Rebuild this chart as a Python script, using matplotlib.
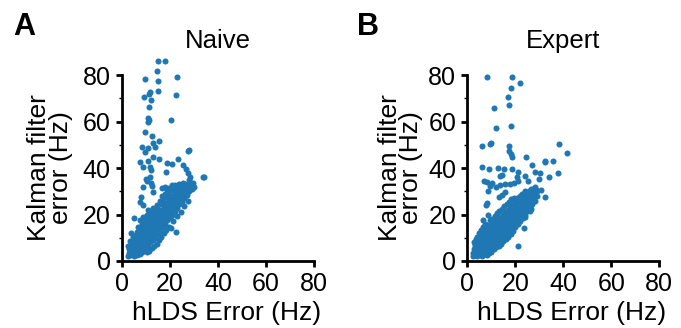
import matplotlib
matplotlib.use("Agg")
import matplotlib.pyplot as plt
from matplotlib.ticker import MultipleLocator

plt.rcParams['font.family'] = ['Liberation Sans', 'DejaVu Sans']

# ---------------- data (x = hLDS error, y = Kalman filter error, Hz) ----------------
naive_cluster = [
    (2.5,2.0),(3.0,3.5),(3.2,5.0),(2.8,6.5),(3.5,2.5),(3.8,4.2),(4.0,6.0),(4.2,7.5),(3.6,8.8),(4.5,3.0),
    (4.8,5.2),(5.0,2.2),(5.2,4.0),(5.5,6.5),(5.0,8.0),(5.3,9.5),(4.6,10.5),(5.8,3.2),(6.0,5.0),(6.2,7.2),
    (5.9,11.0),(6.3,12.5),(6.5,2.5),(6.8,4.5),(6.6,9.0),(7.0,6.0),(7.2,8.0),(7.0,10.5),(7.3,13.0),(6.9,14.5),
    (7.5,3.0),(7.8,5.5),(8.0,7.5),(8.2,9.5),(7.9,11.8),(8.1,14.0),(8.3,16.0),(7.7,17.5),(8.5,4.0),(8.8,6.2),
    (9.0,8.5),(8.7,10.5),(9.2,12.5),(9.0,15.0),(9.4,17.0),(8.9,19.0),(9.5,5.0),(9.8,7.0),(10.0,9.0),(10.2,11.0),
    (9.9,13.5),(10.3,15.5),(10.0,18.0),(10.5,20.0),(10.8,6.5),(11.0,8.5),(11.2,10.0),(11.0,12.0),(11.4,14.0),(11.2,16.5),
    (11.6,19.0),(11.0,22.0),(11.8,8.0),(12.0,10.5),(12.2,12.5),(12.4,14.5),(12.0,17.0),(12.6,18.5),(12.3,21.0),(13.0,9.0),
    (13.2,11.5),(13.5,13.0),(13.0,15.5),(13.3,17.5),(13.6,20.0),(13.1,23.0),(14.0,10.0),(14.2,12.5),(14.5,14.5),(14.0,16.5),
    (14.6,18.5),(14.3,21.0),(14.8,24.0),(15.0,11.5),(15.3,13.5),(15.5,16.0),(15.2,18.0),(15.6,20.5),(15.1,22.5),(15.8,26.0),
    (16.0,13.0),(16.3,15.0),(16.5,17.5),(16.1,19.5),(16.6,22.0),(16.2,24.5),(16.8,28.0),(17.0,14.5),(17.3,17.0),(17.5,19.0),
    (17.1,21.0),(17.6,23.5),(17.2,26.0),(17.8,29.0),(18.0,16.0),(18.3,18.0),(18.5,20.5),(18.2,22.5),(18.6,25.0),(18.1,27.5),
    (18.8,30.5),(19.0,17.5),(19.3,19.5),(19.5,22.0),(19.2,24.0),(19.6,26.5),(19.1,29.0),(19.8,31.5),(20.0,18.5),(20.3,21.0),
    (20.5,23.5),(20.2,25.5),(20.6,28.0),(20.1,30.5),(20.8,32.0),(21.0,20.0),(21.3,22.5),(21.5,25.0),(21.2,27.0),(21.6,29.5),
    (21.1,31.5),(22.0,21.5),(22.3,24.0),(22.5,26.5),(22.2,28.5),(22.6,30.5),(22.1,32.5),(23.0,23.0),(23.3,25.5),(23.5,27.5),
    (23.2,29.5),(23.6,31.5),(23.9,33.0),(24.0,24.5),(24.3,26.5),(24.5,28.5),(24.2,30.5),(24.6,32.5),(25.0,25.5),(25.3,27.5),
    (25.5,29.5),(25.2,31.5),(25.6,33.5),(26.0,27.0),(26.3,29.0),(26.5,31.0),(26.2,33.0),(27.0,28.5),(27.3,30.5),(27.5,32.5),
    (28.0,30.0),(28.3,32.0),(28.6,33.5),(29.0,31.0),
    (14.5,7.5),(15.5,9.0),(16.5,10.5),(17.5,12.0),(18.5,13.5),(19.5,14.5),(13.5,6.5),(12.5,5.5),(11.5,4.5),(10.5,4.0),
    (21.5,17.0),(23.0,19.5),(24.5,21.0),(26.0,23.5),(27.5,26.0),
]
naive_sparse = [
    (14.9,86.2),(18.1,86.2),(14.5,81.6),(9.8,78.4),(15.2,77.6),(22.8,79.0),(11.9,72.8),(11.5,71.8),(14.9,73.0),(9.3,70.4),
    (12.3,69.2),(22.4,71.3),(11.2,66.4),(20.3,60.8),(10.9,61.4),(10.9,59.9),(11.3,60.5),(9.8,55.3),(12.4,53.6),(13.1,50.9),
    (15.6,51.8),(8.4,48.9),(11.1,48.6),(13.7,49.0),(9.7,46.9),(28.1,47.6),(27.7,47.5),(13.1,44.6),(15.5,43.7),(23.4,43.9),
    (7.6,42.6),(11.1,42.8),(21.0,41.9),(18.7,42.0),(8.7,40.3),(11.7,40.6),(12.0,39.1),(25.5,41.3),(26.7,39.4),(18.4,38.4),
    (27.7,38.0),(10.1,35.4),(34.2,36.1),(33.6,36.1),(28.4,36.0),(10.6,34.6),(12.0,33.4),(12.4,32.3),(8.9,32.0),(13.1,29.5),
    (7.9,27.7),(7.6,25.5),(9.0,24.1),(11.8,36.3),(5.1,18.4),(3.7,11.9),(20.5,14.3),(22.4,12.5),(16.6,31.3),(18.0,32.0),
    (20.7,32.7),(29.7,33.4),(28.1,34.8),(30.0,32.0),
]
expert_cluster = [
    (2.2,2.0),(2.5,3.5),(2.8,5.0),(3.0,6.5),(2.6,8.0),(3.3,2.5),(3.5,4.2),(3.8,6.0),(3.4,7.5),(3.6,9.5),
    (4.0,2.0),(4.2,3.5),(4.5,5.2),(4.3,7.0),(4.6,8.8),(4.2,10.5),(4.8,12.0),(5.0,2.8),(5.2,4.5),(5.5,6.2),
    (5.3,8.0),(5.6,9.8),(5.1,11.5),(5.8,13.5),(6.0,2.2),(6.2,3.8),(6.5,5.5),(6.3,7.5),(6.6,9.2),(6.1,11.0),
    (6.8,12.8),(6.4,14.5),(7.0,3.0),(7.2,4.8),(7.5,6.8),(7.3,8.5),(7.6,10.2),(7.1,12.0),(7.8,14.0),(7.4,16.0),
    (8.0,2.5),(8.2,4.2),(8.5,6.0),(8.3,8.0),(8.6,10.0),(8.1,11.8),(8.8,13.5),(8.4,15.5),(9.0,3.5),(9.2,5.5),
    (9.5,7.5),(9.3,9.5),(9.6,11.5),(9.1,13.5),(9.8,15.5),(9.4,17.5),(10.0,4.0),(10.2,6.0),(10.5,8.0),(10.3,10.0),
    (10.6,12.0),(10.1,14.0),(10.8,16.0),(10.4,18.0),(11.0,5.0),(11.3,7.0),(11.5,9.0),(11.2,11.0),(11.6,13.0),(11.1,15.0),
    (11.8,17.0),(11.4,19.5),(12.0,6.0),(12.3,8.0),(12.5,10.0),(12.2,12.0),(12.6,14.0),(12.1,16.0),(12.8,18.0),(12.4,20.5),
    (13.0,6.5),(13.3,9.0),(13.5,11.0),(13.2,13.0),(13.6,15.0),(13.1,17.0),(13.8,19.0),(13.4,21.5),(14.0,7.5),(14.3,10.0),
    (14.5,12.0),(14.2,14.0),(14.6,16.0),(14.1,18.0),(14.8,20.0),(14.4,22.5),(15.0,8.5),(15.3,11.0),(15.5,13.0),(15.2,15.0),
    (15.6,17.0),(15.1,19.0),(15.8,21.0),(15.4,23.5),(16.0,9.5),(16.3,12.0),(16.5,14.0),(16.2,16.0),(16.6,18.0),(16.1,20.0),
    (16.8,22.0),(16.4,24.5),(17.0,10.5),(17.3,13.0),(17.5,15.0),(17.2,17.0),(17.6,19.0),(17.1,21.0),(17.8,23.0),(17.4,25.5),
    (18.0,11.5),(18.3,14.0),(18.5,16.0),(18.2,18.0),(18.6,20.0),(18.1,22.0),(18.8,24.0),(18.4,26.5),(19.0,13.0),(19.3,15.5),
    (19.5,17.5),(19.2,19.5),(19.6,21.5),(19.1,23.5),(19.8,25.5),(19.4,27.0),(20.0,14.5),(20.3,17.0),(20.5,19.0),(20.2,21.0),
    (20.6,23.0),(20.1,25.0),(20.8,27.0),(21.0,16.0),(21.3,18.5),(21.5,20.5),(21.2,22.5),(21.6,24.5),(21.1,26.5),(21.8,28.0),
    (22.0,17.0),(22.3,19.5),(22.5,21.5),(22.2,23.5),(22.6,25.5),(22.1,27.5),(22.8,29.0),(23.0,18.5),(23.3,21.0),(23.5,23.0),
    (23.2,25.0),(23.6,27.0),(23.1,29.0),(24.0,20.0),(24.3,22.5),(24.5,24.5),(24.2,26.5),(24.6,28.5),(24.1,30.0),(25.0,21.5),
    (25.3,24.0),(25.5,26.0),(25.2,28.0),(25.6,30.0),(26.0,23.0),(26.3,25.5),(26.5,27.5),(26.2,29.5),(26.6,31.0),(27.0,24.5),
    (27.3,27.0),(27.5,29.0),(27.2,31.0),(28.0,26.0),(28.3,28.5),(28.5,30.5),(28.2,32.0),(29.0,28.0),(29.2,30.0),
]
expert_sparse = [
    (8.3,79.0),(18.75,79.0),(21.8,76.4),(18.2,74.6),(16.9,70.5),(17.5,67.0),(11.0,65.8),(11.8,57.3),(18.3,58.2),(6.0,49.5),
    (9.6,50.5),(9.9,50.7),(17.5,49.3),(17.5,47.3),(18.1,45.9),(18.5,44.9),(24.6,44.6),(27.1,41.3),(32.2,43.2),(32.3,42.6),
    (35.8,42.9),(38.1,50.5),(41.7,46.3),(37.9,37.8),(33.9,36.3),(32.2,27.7),(30.7,30.5),(29.9,35.3),(28.2,38.1),(30.4,38.0),
    (6.0,40.3),(8.9,39.4),(12.9,40.1),(15.4,39.6),(18.75,39.4),(21.0,38.3),(24.0,36.6),(13.8,36.6),(14.6,36.9),(20.6,36.2),
    (7.1,34.4),(8.2,34.0),(9.3,32.3),(11.9,32.0),(13.8,32.9),(15.8,33.0),(17.8,33.0),(19.6,33.7),(21.3,34.5),(25.1,34.5),
    (10.4,33.4),(8.75,30.3),(13.2,27.7),(14.3,28.3),(15.7,29.8),(8.0,25.0),(7.6,24.0),(6.7,17.6),(8.75,19.9),(21.0,6.5),
    (23.75,14.0),(24.0,19.0),(26.1,21.6),(26.5,22.3),
]
panel_titles = ["Naive", "Expert"]
panel_letters = ["A", "B"]
ticks = [0, 20, 40, 60, 80]
xlabel = "hLDS Error (Hz)"
ylabel = "Kalman filter\nerror (Hz)"

color = "#1f77b4"

fig = plt.figure(figsize=(6.81, 3.28), dpi=100)
W, H = 681, 328
axes_px = [(121.7, 314.3), (467.3, 659.3)]
ylabel_x = [-0.255, -0.232]
letter_x = [13, 357]
datasets = [(naive_cluster, naive_sparse), (expert_cluster, expert_sparse)]

for i in range(2):
    x0, x1 = axes_px[i]
    ax = fig.add_axes([x0 / W, (H - 261) / H, (x1 - x0) / W, 186 / H])
    pts = datasets[i][0] + datasets[i][1]
    xs = [p[0] for p in pts]
    ys = [p[1] for p in pts]
    ax.scatter(xs, ys, s=19, color=color, linewidths=0, clip_on=False, zorder=3)
    ax.set_xlim(0, 80)
    ax.set_ylim(0, 80)
    ax.set_xticks(ticks)
    ax.set_yticks(ticks)
    ax.yaxis.set_minor_locator(MultipleLocator(10))
    for s in ("top", "right"):
        ax.spines[s].set_visible(False)
    for s in ("left", "bottom"):
        ax.spines[s].set_linewidth(2.0)
    ax.tick_params(axis="both", which="major", length=4, width=2.0, labelsize=18, pad=4)
    ax.tick_params(axis="y", which="minor", length=2.5, width=1.0)
    ax.set_xlabel(xlabel, fontsize=19)
    ax.xaxis.set_label_coords(0.545, -0.215)
    ax.set_ylabel(ylabel, fontsize=19, linespacing=0.85)
    ax.yaxis.set_label_coords(ylabel_x[i], 0.5)
    ax.patch.set_visible(False)
    fig.text((x0 + x1) / 2 / W, 1 - 48.3 / H, panel_titles[i], fontsize=18.5,
             ha="center", va="baseline")
    fig.text(letter_x[i] / W, 1 - 35 / H, panel_letters[i], fontsize=22,
             fontweight="bold", ha="left", va="baseline")

fig.savefig("out.png", dpi=100)
